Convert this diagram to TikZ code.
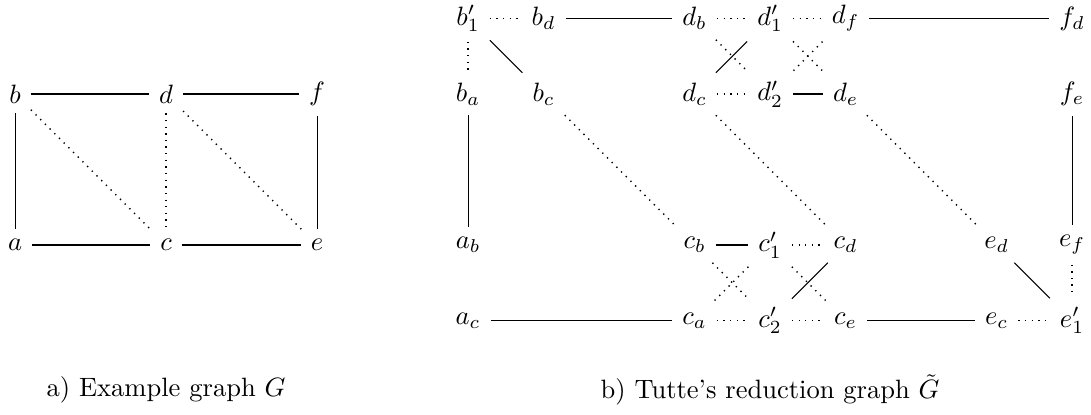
\documentclass[tikz,border=0pt]{standalone}
\usepackage{amsmath, amssymb}
\usetikzlibrary{positioning}
\tikzset{
    vtx/.style={inner sep=3.6pt},
    real/.style={thin, black},
    virt/.style={black, line width=0.5pt, dotted},
    caption/.style={font=\normalsize}
}

\begin{document}
\begin{tikzpicture}
\useasboundingbox (-0.2,-2.24) rectangle (14.25,3.245);

% Example graph G
\node[vtx] (a) at (0,0) {$a$};
\node[vtx] (c) at (2,0) {$c$};
\node[vtx] (e) at (4,0) {$e$};
\node[vtx] (b) at (0,2) {$b$};
\node[vtx] (d) at (2,2) {$d$};
\node[vtx] (f) at (4,2) {$f$};

\draw[real] (b) -- (d);
\draw[real] (d) -- (f);
\draw[real] (a) -- (c);
\draw[real] (c) -- (e);
\draw[real] (a) -- (b);
\draw[real] (e) -- (f);
\draw[virt] (b) -- (c);
\draw[virt] (d) -- (c);
\draw[virt] (d) -- (e);

% Reduction graph, top rows
\node[vtx] (b1) at (6,3)  {$b'_1$};
\node[vtx] (bd) at (7,3)  {$b_d$};
\node[vtx] (db) at (9,3)  {$d_b$};
\node[vtx] (d1) at (10,3) {$d'_1$};
\node[vtx] (df) at (11,3) {$d_f$};
\node[vtx] (fd) at (14,3) {$f_d$};

\node[vtx] (ba) at (6,2)  {$b_a$};
\node[vtx] (bc) at (7,2)  {$b_c$};
\node[vtx] (dc) at (9,2)  {$d_c$};
\node[vtx] (d2) at (10,2) {$d'_2$};
\node[vtx] (de) at (11,2) {$d_e$};
\node[vtx] (fe) at (14,2) {$f_e$};

% Reduction graph, bottom rows
\node[vtx] (ab) at (6,0)  {$a_b$};
\node[vtx] (cb) at (9,0)  {$c_b$};
\node[vtx] (c1) at (10,0) {$c'_1$};
\node[vtx] (cd) at (11,0) {$c_d$};
\node[vtx] (ed) at (13,0) {$e_d$};
\node[vtx] (ef) at (14,0) {$e_f$};

\node[vtx] (ac) at (6,-1)  {$a_c$};
\node[vtx] (ca) at (9,-1)  {$c_a$};
\node[vtx] (c2) at (10,-1) {$c'_2$};
\node[vtx] (ce) at (11,-1) {$c_e$};
\node[vtx] (ec) at (13,-1) {$e_c$};
\node[vtx] (e1) at (14,-1) {$e'_1$};

% Horizontal edges
\draw[virt] (b1) -- (bd);
\draw[real] (bd) -- (db);
\draw[virt] (db) -- (d1);
\draw[virt] (d1) -- (df);
\draw[real] (df) -- (fd);
\draw[virt] (dc) -- (d2);
\draw[real] (d2) -- (de);
\draw[real] (cb) -- (c1);
\draw[virt] (c1) -- (cd);
\draw[real] (ac) -- (ca);
\draw[virt] (ca) -- (c2);
\draw[virt] (c2) -- (ce);
\draw[real] (ce) -- (ec);
\draw[virt] (ec) -- (e1);

% Vertical edges
\draw[virt] (b1) -- (ba);
\draw[real] (ba) -- (ab);
\draw[real] (fe) -- (ef);
\draw[virt] (ef) -- (e1);

% Diagonal edges
\draw[real] (b1) -- (bc);
\draw[virt] (bc) -- (cb);
\draw[virt] (dc) -- (cd);
\draw[virt] (de) -- (ed);
\draw[real] (ed) -- (e1);
\draw[virt] (db) -- (d2);
\draw[real] (dc) -- (d1);
\draw[virt] (d1) -- (de);
\draw[virt] (df) -- (d2);
\draw[virt] (cb) -- (c2);
\draw[virt] (c1) -- (ca);
\draw[virt] (c1) -- (ce);
\draw[real] (c2) -- (cd);

% Captions
\node[caption] (capa) at (2,-1.92)  {a) Example graph $G$};
\node[caption] (capb) at (10,-1.92) {b) Tutte's reduction graph $\tilde{G}$};
\end{tikzpicture}
\end{document}
